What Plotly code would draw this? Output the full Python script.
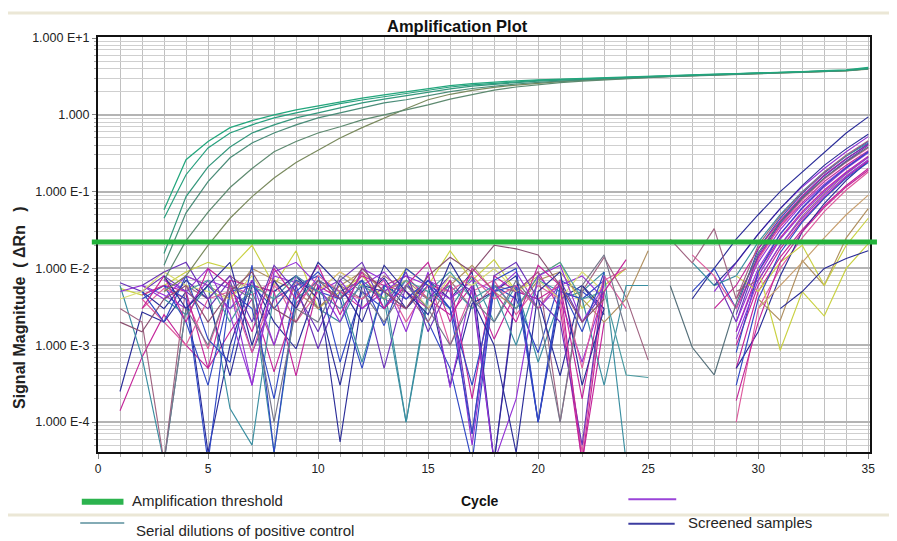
import plotly.graph_objects as go

# ---------------- data ----------------
control_cycles = list(range(3, 36))
control_A = [0.058, 0.26, 0.45, 0.68, 0.84, 1.0, 1.16, 1.31, 1.49, 1.65, 1.82, 2.0, 2.2, 2.4, 2.55, 2.67, 2.77, 2.85, 2.92, 2.98, 3.05, 3.12, 3.2, 3.27, 3.34, 3.4, 3.45, 3.5, 3.57, 3.65, 3.75, 3.85, 4.15]
control_B = [0.045, 0.166, 0.37, 0.58, 0.74, 0.91, 1.06, 1.23, 1.4, 1.56, 1.72, 1.9, 2.1, 2.3, 2.45, 2.58, 2.7, 2.8, 2.88, 2.95, 3.02, 3.1, 3.17, 3.24, 3.3, 3.36, 3.42, 3.48, 3.55, 3.62, 3.7, 3.8, 4.05]
control_C = [0.0156, 0.086, 0.21, 0.38, 0.58, 0.74, 0.91, 1.06, 1.23, 1.43, 1.6, 1.78, 1.98, 2.18, 2.36, 2.5, 2.63, 2.74, 2.83, 2.91, 2.99, 3.07, 3.15, 3.22, 3.29, 3.35, 3.41, 3.47, 3.54, 3.6, 3.68, 3.78, 4.0]
control_D = [0.011, 0.053, 0.135, 0.276, 0.43, 0.58, 0.74, 0.91, 1.06, 1.23, 1.43, 1.57, 1.78, 2.0, 2.2, 2.38, 2.52, 2.65, 2.76, 2.86, 2.95, 3.03, 3.11, 3.19, 3.26, 3.33, 3.39, 3.45, 3.52, 3.58, 3.66, 3.76, 3.98]
control_E = [0.007, 0.023, 0.054, 0.113, 0.2, 0.33, 0.45, 0.58, 0.7, 0.86, 1.0, 1.16, 1.35, 1.6, 1.85, 2.1, 2.3, 2.48, 2.62, 2.75, 2.86, 2.96, 3.05, 3.14, 3.22, 3.3, 3.37, 3.44, 3.5, 3.57, 3.65, 3.75, 3.95]
control_F = [0.005, 0.008, 0.02, 0.045, 0.086, 0.15, 0.24, 0.35, 0.5, 0.68, 0.91, 1.2, 1.57, 1.85, 2.08, 2.28, 2.44, 2.58, 2.7, 2.8, 2.9, 2.99, 3.08, 3.16, 3.24, 3.31, 3.38, 3.44, 3.5, 3.56, 3.64, 3.74, 3.93]

# background noise of screened samples, cycles 1-25, in units of 1e-3 dRn
noise_cycles = list(range(1, 26))
noise_1 = [0.14, 0.7, 2.5, 1.0, 0.5, 1.5, 4.0, 0.45, 3.5, 7.0, 5.0, 3.0, 6.0, 8.0, 4.0, 2.5, 6.0, 1.2, 5.0, 9.0, 3.0, 0.03, 2.0, None, None]
noise_2 = [0.25, 2.7, 2.0, 5.0, 0.04, 1.0, 7.0, 2.0, 0.9, 6.0, 0.055, 4.0, 7.5, 3.0, 6.0, 0.3, 3.5, 5.0, 8.0, 0.1, 4.0, 6.0, 2.5, None, None]
noise_3 = [5.5, 4.5, 6.0, 9.0, 12.0, 10.0, 20.0, 6.0, 17.0, 3.0, 5.0, 8.0, 4.0, 10.0, 6.0, 17.0, 7.0, 13.0, 5.0, 8.0, 12.0, 3.0, 6.0, 10.0, None]
noise_4 = [6.0, 0.7, 0.03, 3.0, 6.0, 0.15, 0.05, 5.0, 8.0, 3.0, 2.0, 7.0, 4.0, 0.1, 5.0, 3.0, 8.0, 2.0, 6.0, 0.6, 4.0, 5.0, 9.0, 0.03, None]
noise_5 = [5.0, 6.0, 4.5, 3.0, 7.0, 5.5, 0.3, 8.0, 6.5, 5.0, 3.0, 6.0, 9.0, 4.0, 7.0, 5.0, 0.05, 6.0, 3.0, 8.0, 4.0, 0.6, 5.0, None, None]
noise_6 = [None, 4.0, 6.0, 2.0, 0.3, 5.0, 3.0, 0.2, 6.0, 8.0, 0.6, 5.0, 3.0, 7.0, 2.0, 0.5, 0.03, 6.0, 4.0, 0.8, 7.0, 5.0, 3.0, None, None]
noise_7 = [None, 3.0, 5.5, 4.0, 0.9, 6.0, 4.5, 7.0, 2.0, 5.0, 9.0, 6.0, 4.0, 3.0, 8.0, 1.0, 5.0, 7.0, 2.5, 6.0, 4.0, 0.04, 7.0, 10.0, None]
noise_8 = [3.0, 2.0, 0.03, 6.0, 4.0, 8.0, 5.0, 1.0, 7.0, 3.0, 6.0, 4.0, 8.0, 5.0, 2.0, 7.0, 3.0, 6.0, 5.0, 9.0, 0.1, 5.0, 14.0, 4.2, 0.64]
noise_9 = [6.5, 5.0, 8.0, 5.0, 3.0, 7.0, 0.8, 4.0, 6.0, 0.9, 5.0, 7.0, 0.5, 6.0, 4.0, 8.0, 5.0, 0.03, 6.0, 3.0, 7.0, 2.0, 5.0, None, None]
noise_10 = [None, None, 5.0, 8.0, 6.0, 4.0, 10.0, 7.0, 5.0, 3.0, 6.0, 9.0, 5.0, 7.0, 4.0, 6.0, 11.0, 5.0, 3.0, 7.0, 9.0, 4.0, 2.0, 4.0, 17.0]
noise_11 = [None, 5.0, 3.0, 7.0, 4.0, 0.4, 6.0, 5.0, 8.0, 4.0, 0.3, 6.0, 5.0, 3.0, 7.0, 4.0, 9.0, 0.03, 5.0, 4.0, 0.4, 6.0, 3.0, None, None]
noise_12 = [None, None, 4.0, 2.5, 6.0, 3.0, 5.0, 0.04, 4.0, 7.0, 5.0, 0.6, 6.0, 0.1, 4.0, 6.0, 3.0, 5.0, 1.0, 7.0, 5.0, 4.0, 0.3, 6.0, 6.0]
noise_13 = [None, 4.5, 6.0, 5.0, 0.5, 7.0, 6.0, 5.0, 0.4, 6.0, 4.0, 8.0, 6.0, 5.0, 3.0, 7.0, 0.2, 8.0, 5.0, 4.0, 6.0, 0.2, 7.0, None, None]
noise_14 = [None, 6.0, 4.0, 8.0, 6.0, 3.0, 7.0, 1.0, 8.0, 5.0, 7.0, 3.0, 5.0, 8.0, 6.0, 4.0, 7.0, 5.0, 9.0, 3.0, 6.0, 8.0, 4.0, None, None]
noise_15 = [4.0, 5.0, 9.0, 6.0, 5.0, 4.0, 8.0, 3.0, 7.0, 5.0, 9.0, 6.0, 4.0, 7.0, 3.0, 8.0, 6.0, 10.0, 5.0, 7.0, 4.0, 9.0, 5.0, None, None]
noise_16 = [None, None, 6.0, 4.0, 0.03, 5.0, 6.0, 3.0, 7.0, 5.0, 4.0, 0.5, 6.0, 4.0, 7.0, 3.0, 0.3, 5.0, 6.0, 0.1, 5.0, 4.0, 7.0, None, None]
noise_17 = [None, 4.0, 2.0, 1.0, 4.0, 5.0, 0.8, 6.0, 3.0, 8.0, 5.0, 4.0, 7.0, 2.0, 6.0, 5.0, 8.0, 4.0, 6.0, 3.0, 7.0, 0.5, 8.0, 3.0, None]
noise_18 = [None, None, None, 5.0, 7.0, 2.0, 6.0, 4.0, 8.0, 5.0, 3.0, 6.0, 4.0, 7.0, 5.0, 9.0, 4.0, 6.0, 3.0, 8.0, 12.0, 4.0, 5.0, 0.41, 0.38]
noise_19 = [None, 6.0, 9.0, 12.0, 4.0, 8.0, 2.0, 11.0, 5.0, 1.5, 7.0, 12.0, 3.0, 9.0, 1.5, 6.0, 0.07, 8.0, 12.0, 4.0, 2.0, 0.05, 8.0, None, None]
noise_20 = [None, None, 7.0, 5.0, 10.0, 2.5, 0.3, 9.0, 12.0, 6.0, 2.0, 10.0, 7.0, 1.5, 9.0, 0.28, 6.0, 0.03, 0.2, 8.0, 11.0, 2.0, 6.0, None, None]
noise_21 = [None, 5.0, 2.0, 8.0, 1.2, 0.6, 11.0, 0.04, 5.0, 9.0, 4.0, 7.0, 1.8, 10.0, 6.0, 3.0, 0.07, 7.0, 10.0, 0.1, 6.0, 1.5, 9.0, None, None]
noise_22 = [None, 3.0, 8.0, 2.0, 10.0, 6.0, 1.5, 10.0, 4.0, 11.0, 2.5, 9.0, 3.0, 6.0, 12.0, 2.0, 10.0, 5.0, 2.0, 11.0, 6.0, 0.03, 5.0, 13.0, None]
noise_23 = [None, None, 8.0, 3.0, 6.0, 12.0, 1.0, 7.0, 3.0, 12.0, 6.0, 2.0, 11.0, 5.0, 2.5, 12.0, 4.0, 1.0, 0.04, 5.0, 9.0, 0.3, 3.0, None, None]
noise_24 = [None, None, 0.03, 3.0, 1.0, 6.0, 4.0, 0.1, 3.0, 2.0, 8.0, 5.0, 2.0, 6.0, 3.0, 1.0, 4.0, 2.0, 7.0, 3.0, 0.1, 6.0, 15.0, 1.5, None]
noise_25 = [2.0, 1.5, 4.0, 6.0, 2.0, 5.0, 9.0, 3.0, 2.0, 7.0, 4.0, 10.0, 5.0, 3.0, 8.0, 14.0, 9.0, 20.0, 18.0, 15.0, 6.0, 2.0, 4.0, None, None]

# late part of the screened samples, cycles 26-35, in units of 1e-3 dRn
late_cycles = list(range(26, 36))
late_1 = [None, 4.0, 10.0, 24.0, 50.0, 100.0, 180.0, 330.0, 580.0, 940.0]
late_2 = [None, None, 5.0, 12.0, 28.0, 60.0, 115.0, 200.0, 330.0, 520.0]
late_3 = [None, None, None, 1.5, 9.0, 25.0, 55.0, 105.0, 180.0, 290.0]
late_4 = [None, None, 8.0, 2.0, 14.0, 38.0, 80.0, 150.0, 250.0, 400.0]
late_5 = [None, None, None, 0.5, 5.0, 14.0, 32.0, 65.0, 120.0, 200.0]
late_6 = [None, 5.0, 10.0, 3.0, 18.0, 45.0, 95.0, 175.0, 290.0, 450.0]
late_7 = [None, None, None, 2.0, 10.0, 28.0, 60.0, 115.0, 200.0, 320.0]
late_8 = [None, None, None, 0.1, 3.0, 10.0, 25.0, 55.0, 105.0, 180.0]
late_9 = [None, None, None, 0.5, 1.5, 8.0, 30.0, 70.0, 140.0, 250.0]
late_10 = [None, None, None, 4.0, 14.0, 35.0, 72.0, 135.0, 220.0, 340.0]
late_11 = [None, 12.0, 6.0, 8.0, 22.0, 50.0, 100.0, 180.0, 290.0, 430.0]
late_12 = [None, None, None, 3.0, 12.0, 32.0, 68.0, 125.0, 210.0, 330.0]
late_13 = [None, None, None, 5.0, 7.0, 20.0, 48.0, 95.0, 170.0, 280.0]
late_14 = [None, None, None, 1.0, 6.0, 18.0, 42.0, 85.0, 155.0, 250.0]
late_15 = [None, None, 6.0, 12.0, 28.0, 60.0, 120.0, 220.0, 360.0, 560.0]
late_16 = [None, None, None, 1.5, 8.0, 24.0, 52.0, 100.0, 175.0, 280.0]
late_17 = [None, None, None, None, 10.0, 0.86, 5.0, 2.4, 10.0, 21.0]
late_18 = [None, None, None, None, 4.0, 2.1, 12.7, 6.0, 25.0, 60.0]
late_19 = [None, None, None, 8.0, 5.0, 12.0, 20.0, 6.0, 20.0, 45.0]
late_20 = [None, 15.0, 8.0, 3.0, 13.0, 36.0, 78.0, 145.0, 240.0, 370.0]
late_21 = [None, None, None, 0.8, 9.0, 28.0, 62.0, 120.0, 205.0, 330.0]
late_22 = [None, None, 3.0, 6.0, 18.0, 42.0, 88.0, 165.0, 270.0, 410.0]
late_23 = [None, None, None, 2.5, 15.0, 40.0, 85.0, 160.0, 265.0, 420.0]
late_24 = [None, None, None, None, None, 3.0, 5.0, 10.0, 13.5, 17.0]
late_25 = [6.0, 0.94, 0.41, 3.5, 16.0, 40.0, 82.0, 150.0, 245.0, 380.0]
late_26 = [24.0, 11.8, 33.0, 4.0, 20.0, 48.0, 98.0, 180.0, 300.0, 460.0]
late_27 = [None, None, None, 1.2, 7.0, 20.0, 45.0, 90.0, 160.0, 260.0]
late_28 = [None, None, None, 0.19, 2.0, 12.0, 30.0, 62.0, 115.0, 190.0]
late_29 = [None, None, None, 0.3, 4.0, 16.0, 40.0, 82.0, 150.0, 240.0]
late_30 = [None, None, None, None, 3.0, 6.0, 12.0, 25.0, 50.0, 90.0]

THRESHOLD = 0.022

x_tick_vals = [0, 5, 10, 15, 20, 25, 30, 35]
y_tick_vals = [1e-4, 1e-3, 1e-2, 1e-1, 1, 10]
y_tick_text = ["1.000 E-4", "1.000 E-3", "1.000 E-2", "1.000 E-1", "1.000", "1.000 E+1"]

legend_labels = ["Amplification threshold", "Serial dilutions of positive control", "", "Screened samples"]

# ---------------- styles ----------------
FONT = "Liberation Sans, Arial, sans-serif"
PURPLE = "#9433d6"
MAGENTA = "#c4259a"
NAVY = "#2a2c98"
BLUE = "#3048c4"
TEAL = "#3a8ea0"
YELLOW = "#c9d142"
OLIVE = "#b09060"
PINK = "#de5c9e"
MAUVE = "#a06482"
VIOLET = "#6a34b8"
GREEN = "#22b23a"

noise_series = [noise_1, noise_2, noise_3, noise_4, noise_5, noise_6, noise_7, noise_8, noise_9,
                noise_10, noise_11, noise_12, noise_13, noise_14, noise_15, noise_16, noise_17, noise_18,
                noise_19, noise_20, noise_21, noise_22, noise_23, noise_24, noise_25]
noise_colors = [MAGENTA, NAVY, YELLOW, TEAL, PURPLE, BLUE, PINK, MAUVE, VIOLET,
                OLIVE, NAVY, TEAL, MAGENTA, PURPLE, "#d8dc70", BLUE, PINK, "#4a9aa0",
                VIOLET, PURPLE, BLUE, MAGENTA, NAVY, "#76768a", "#8a5070"]

late_series = [late_1, late_2, late_3, late_4, late_5, late_6, late_7, late_8, late_9, late_10,
               late_11, late_12, late_13, late_14, late_15, late_16, late_17, late_18, late_19, late_20,
               late_21, late_22, late_23, late_24, late_25, late_26, late_27, late_28, late_29, late_30]
late_colors = [NAVY, PURPLE, MAGENTA, VIOLET, MAGENTA, BLUE, PURPLE, PINK, NAVY, MAGENTA,
               TEAL, PURPLE, MAUVE, MAGENTA, NAVY, PURPLE, YELLOW, OLIVE, YELLOW, PINK,
               BLUE, MAGENTA, VIOLET, NAVY, "#55707a", MAUVE, PURPLE, MAGENTA, BLUE, "#c8a070"]

control_series = [control_F, control_E, control_D, control_C, control_B, control_A]
control_colors = ["#7a8a5e", "#5e8a70", "#4a8c78", "#34977c", "#27a07e", "#22a67c"]


def milli(arr):
    return [None if v is None else v * 1e-3 for v in arr]


fig = go.Figure()
for s, c in zip(noise_series, noise_colors):
    fig.add_trace(go.Scatter(x=noise_cycles, y=milli(s), mode="lines",
                             line=dict(color=c, width=1.15), connectgaps=False, showlegend=False))
for s, c in zip(late_series, late_colors):
    fig.add_trace(go.Scatter(x=late_cycles, y=milli(s), mode="lines",
                             line=dict(color=c, width=1.15), connectgaps=False, showlegend=False))
for s, c in zip(control_series, control_colors):
    fig.add_trace(go.Scatter(x=control_cycles, y=s, mode="lines",
                             line=dict(color=c, width=1.2), showlegend=False))

# threshold line (extends slightly past the frame as in the original)
fig.add_shape(type="line", xref="paper", yref="y", x0=-0.008, x1=1.009,
              y0=THRESHOLD, y1=THRESHOLD, line=dict(color=GREEN, width=5))

# separators
for yy in (1.058, -0.152):
    fig.add_shape(type="line", xref="paper", yref="paper", x0=-0.13, x1=1.04,
                  y0=yy, y1=yy, line=dict(color="#ebe7d6", width=3))

# legend
fig.add_shape(type="line", xref="paper", yref="paper", x0=-0.021, x1=0.033, y0=-0.12, y1=-0.12,
              line=dict(color="#2cb34e", width=6))
fig.add_shape(type="line", xref="paper", yref="paper", x0=-0.023, x1=0.034, y0=-0.171, y1=-0.171,
              line=dict(color="#5a8f9c", width=1.5))
fig.add_shape(type="line", xref="paper", yref="paper", x0=0.687, x1=0.749, y0=-0.114, y1=-0.114,
              line=dict(color="#9a44d8", width=2))
fig.add_shape(type="line", xref="paper", yref="paper", x0=0.687, x1=0.747, y0=-0.173, y1=-0.173,
              line=dict(color="#3c3ca0", width=2))

ann_font = dict(family=FONT, size=15, color="#262626")
fig.add_annotation(xref="paper", yref="paper", x=0.042, y=-0.116, text=legend_labels[0],
                   showarrow=False, xanchor="left", yanchor="middle", font=ann_font)
fig.add_annotation(xref="paper", yref="paper", x=0.047, y=-0.188, text=legend_labels[1],
                   showarrow=False, xanchor="left", yanchor="middle", font=ann_font)
fig.add_annotation(xref="paper", yref="paper", x=0.762, y=-0.171, text=legend_labels[3],
                   showarrow=False, xanchor="left", yanchor="middle", font=ann_font)

# titles
fig.add_annotation(xref="paper", yref="paper", x=0.466, y=1.0, yshift=0, text="<b>Amplification Plot</b>",
                   showarrow=False, xanchor="center", yanchor="bottom",
                   font=dict(family=FONT, size=16.5, color="#111111"))
fig.add_annotation(xref="paper", yref="paper", x=0.495, y=-0.118, text="<b>Cycle</b>",
                   showarrow=False, xanchor="center", yanchor="middle",
                   font=dict(family=FONT, size=14, color="#111111"))
fig.add_annotation(xref="paper", yref="paper", x=-0.101, y=0.347,
                   text="<b>Signal Magnitude\u00a0\u00a0(\u00a0\u0394Rn\u00a0\u00a0\u00a0)</b>",
                   showarrow=False, textangle=-90, xanchor="center", yanchor="middle",
                   font=dict(family=FONT, size=16, color="#222222"))

# the page adds an 8px body margin, so the figure is 8px smaller than the window
fig.update_layout(
    width=889, height=533,
    margin=dict(l=90, r=27, t=29, b=89, autoexpand=False),
    paper_bgcolor="white", plot_bgcolor="white",
    font=dict(family=FONT, size=12, color="#222222"),
    showlegend=False,
)
fig.update_xaxes(
    range=[0, 35.08], tickmode="array", tickvals=x_tick_vals, automargin=False,
    ticks="outside", ticklen=5, tickcolor="#888888",
    showgrid=True, gridcolor="#c0c0c0", gridwidth=1.3,
    minor=dict(dtick=1, tick0=0, showgrid=True, gridcolor="#c0c0c0", gridwidth=1.3,
               ticks="outside", ticklen=3, tickcolor="#aaaaaa"),
    showline=True, linecolor="#111111", linewidth=2, mirror=True, zeroline=False,
    tickfont=dict(family=FONT, size=12, color="#222222"),
)
fig.update_yaxes(
    type="log", range=[-4.39, 1.013], tickmode="array", tickvals=y_tick_vals, ticktext=y_tick_text,
    automargin=False,
    ticks="outside", ticklen=4, tickcolor="#888888",
    showgrid=True, gridcolor="#b4b4b4", gridwidth=1.6,
    minor=dict(dtick="D1", showgrid=True, gridcolor="#cfcfcf", gridwidth=1,
               ticks="outside", ticklen=2, tickcolor="#aaaaaa"),
    showline=True, linecolor="#111111", linewidth=2, mirror=True, zeroline=False,
    tickfont=dict(family=FONT, size=12.5, color="#222222"),
)

fig.write_html("out.html")
